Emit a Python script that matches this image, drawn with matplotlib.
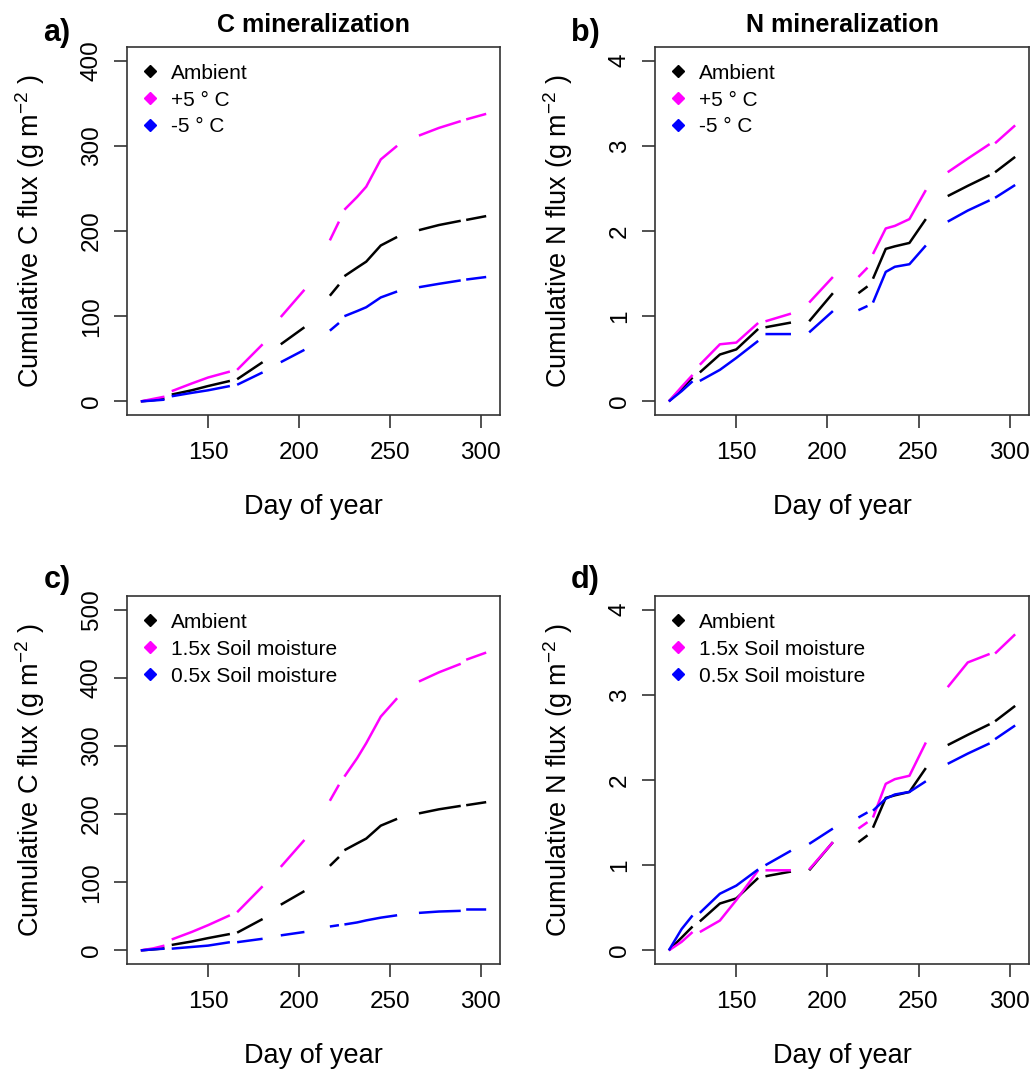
import numpy as np
import matplotlib
matplotlib.use("Agg")
import matplotlib.pyplot as plt
from matplotlib.lines import Line2D

plt.rcParams['font.family'] = ['Liberation Sans', 'DejaVu Sans']
plt.rcParams['mathtext.fontset'] = 'custom'
plt.rcParams['mathtext.rm'] = 'Liberation Sans'
plt.rcParams['mathtext.it'] = 'Liberation Sans:italic'

nan = np.nan

# day of year, NaN marks a gap in the record
days = [113, 120, 126, nan, 130, 141, 150, 162, nan, 166, 180, nan, 190, 203, nan,
        217, 222, nan, 225, 232, 237, 245, 254, nan, 266, 277, 289, nan, 292, 303]

# cumulative C flux (g m-2)
c_ambient = [0, 1.5, 3, nan, 8, 13, 18, 24, nan, 26, 46, nan, 67, 87, nan,
             124, 137, nan, 147, 157, 164, 183, 193, nan, 201, 207, 212, nan, 213, 217.5]
c_warm = [0, 3, 5.5, nan, 12, 21, 28, 35, nan, 37, 67, nan, 99, 131, nan,
          189, 211, nan, 225, 240, 252, 284, 300, nan, 312, 321, 329, nan, 331, 337.5]
c_cool = [0, 1, 2, nan, 6, 10, 13, 18, nan, 19.5, 34, nan, 46, 60.5, nan,
          83, 92, nan, 100, 106, 110.5, 122, 129, nan, 134, 138, 142, nan, 143, 146]
c_wet = [0, 3, 7, nan, 16, 27, 37, 51.5, nan, 56, 94, nan, 122.5, 162, nan,
         219.5, 243, nan, 255, 282, 304, 343, 370, nan, 394.5, 408, 420.5, nan, 426.5, 437]
c_dry = [0, 1.5, 2.5, nan, 2.5, 5, 7, 12, nan, 12, 17, nan, 22, 27, nan,
         35, 37, nan, 38, 41, 44, 48, 51.5, nan, 55, 57, 58, nan, 60, 60]

# cumulative N flux (g m-2)
n_ambient = [0, 0.15, 0.28, nan, 0.34, 0.55, 0.61, 0.85, nan, 0.87, 0.925, nan, 0.94, 1.27, nan,
             1.27, 1.35, nan, 1.44, 1.79, 1.82, 1.86, 2.14, nan, 2.41, 2.53, 2.655, nan, 2.69, 2.87]
n_warm = [0, 0.17, 0.31, nan, 0.43, 0.67, 0.69, 0.92, nan, 0.94, 1.03, nan, 1.16, 1.46, nan,
          1.46, 1.57, nan, 1.73, 2.03, 2.06, 2.14, 2.48, nan, 2.69, 2.85, 3.02, nan, 3.03, 3.24]
n_cool = [0, 0.12, 0.236, nan, 0.24, 0.37, 0.51, 0.71, nan, 0.79, 0.79, nan, 0.81, 1.06, nan,
          1.07, 1.12, nan, 1.16, 1.52, 1.58, 1.61, 1.83, nan, 2.11, 2.24, 2.36, nan, 2.39, 2.54]
n_wet = [0, 0.1, 0.215, nan, 0.215, 0.35, 0.59, 0.94, nan, 0.94, 0.94, nan, 0.95, 1.27, nan,
         1.43, 1.505, nan, 1.56, 1.955, 2.01, 2.05, 2.44, nan, 3.09, 3.38, 3.48, nan, 3.485, 3.71]
n_dry = [0, 0.25, 0.41, nan, 0.44, 0.665, 0.76, 0.95, nan, 1.0, 1.17, nan, 1.25, 1.43, nan,
         1.56, 1.62, nan, 1.64, 1.78, 1.83, 1.86, 1.985, nan, 2.19, 2.31, 2.43, nan, 2.48, 2.64]

temp_labels = ['Ambient', '+5 \u00b0 C', '-5 \u00b0 C']
moist_labels = ['Ambient', '1.5x Soil moisture', '0.5x Soil moisture']
colors = ['black', '#ff00ff', '#0000ff']

W, H = 1033, 1070
fig = plt.figure(figsize=(W / 100, H / 100), dpi=100)


def add_ax(x0, x1, y0, y1):
    return fig.add_axes([x0 / W, 1 - y1 / H, (x1 - x0) / W, (y1 - y0) / H])


panels = [
    (add_ax(127, 500, 47, 415), [c_ambient, c_warm, c_cool], temp_labels, 400,
     'Cumulative C flux (g m$^{-2}$ )', 'C mineralization', 'a)'),
    (add_ax(655, 1029, 47, 415), [n_ambient, n_warm, n_cool], temp_labels, 4,
     'Cumulative N flux (g m$^{-2}$ )', 'N mineralization', 'b)'),
    (add_ax(127, 500, 596, 964), [c_ambient, c_wet, c_dry], moist_labels, 500,
     'Cumulative C flux (g m$^{-2}$ )', None, 'c)'),
    (add_ax(655, 1029, 596, 964), [n_ambient, n_wet, n_dry], moist_labels, 4,
     'Cumulative N flux (g m$^{-2}$ )', None, 'd)'),
]

for ax, series, labels, ytop, ylab, title, tag in panels:
    for vals, col in zip(series, colors):
        ax.plot(days, vals, color=col, lw=1.8, solid_capstyle='butt')
    ax.set_xlim(105.4, 310.6)
    ax.set_ylim(-0.04 * ytop, 1.04 * ytop)
    ax.set_xticks([150, 200, 250, 300])
    step = 100 if ytop > 10 else 1
    ax.set_yticks(np.arange(0, ytop + step / 2, step))
    for s in ax.spines.values():
        s.set_color('#333333')
        s.set_linewidth(1.2)
    ax.tick_params(length=9.5, width=1.2, color='#333333', labelsize=17.5, direction='out')
    ax.tick_params(axis='x', pad=10)
    ax.tick_params(axis='y', pad=8, labelrotation=90)
    for lab in ax.get_yticklabels():
        lab.set_va('center')
    ax.set_xlabel('Day of year', fontsize=19.5, va='center')
    ax.xaxis.set_label_coords(0.5, -92 / 368)
    ax.set_ylabel(ylab, fontsize=19.5, va='center')
    ax.yaxis.set_label_coords(-97 / 373, 0.5)
    if title:
        ax.text(0.5, 1 + 22 / 368, title, transform=ax.transAxes, ha='center', va='center',
                fontsize=18, fontweight='bold')
    handles = [Line2D([], [], ls='none', marker='D', ms=6, color=c) for c in colors]
    ax.legend(handles, labels, loc='upper left', frameon=False, fontsize=15,
              handlelength=0.6, handletextpad=0.7, labelspacing=0.38,
              borderaxespad=0.3, borderpad=0.5)

tag_pos = {'a)': (57, 33), 'b)': (585, 33), 'c)': (57, 580), 'd)': (585, 580)}
for tag, (x, y) in tag_pos.items():
    fig.text(x / W, 1 - y / H, tag, fontsize=22, fontweight='bold', ha='center', va='center')

fig.savefig('out.png', dpi=100)
